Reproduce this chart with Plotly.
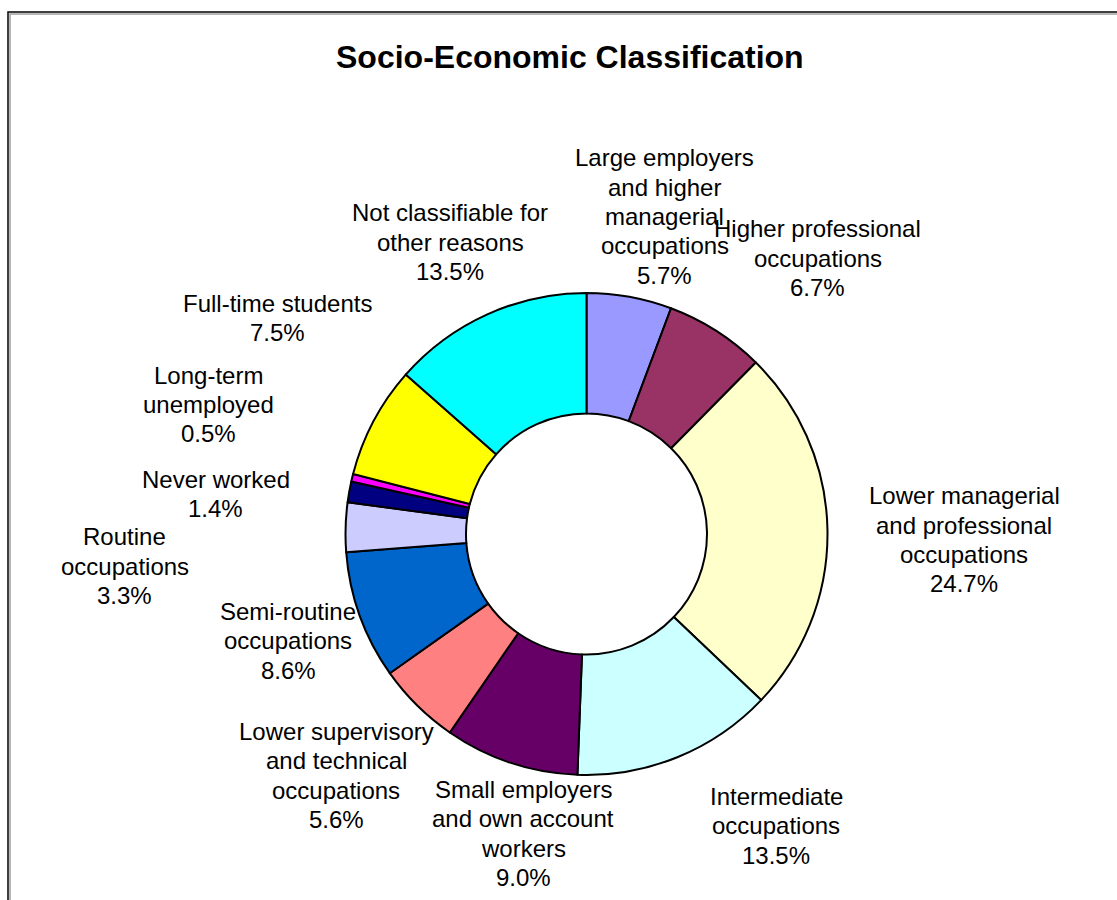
import math
import plotly.graph_objects as go

# Socio-economic classification shares (%), clockwise from 12 o'clock
categories = [
    "Large employers\nand higher\nmanagerial\noccupations",
    "Higher professional\noccupations",
    "Lower managerial\nand professional\noccupations",
    "Intermediate\noccupations",
    "Small employers\nand own account\nworkers",
    "Lower supervisory\nand technical\noccupations",
    "Semi-routine\noccupations",
    "Routine\noccupations",
    "Never worked",
    "Long-term\nunemployed",
    "Full-time students",
    "Not classifiable for\nother reasons",
]
shares = [5.7, 6.7, 24.7, 13.5, 9.0, 5.6, 8.6, 3.3, 1.4, 0.5, 7.5, 13.5]

colors = [
    "#9999FF", "#993366", "#FFFFCC", "#CCFFFF", "#660066", "#FF8080",
    "#0066CC", "#CCCCFF", "#000080", "#FF00FF", "#FFFF00", "#00FFFF",
]

# Label placement: distance from the centre (px) and angular nudge (deg)
label_dist = [327, 360, 378, 348, 306, 348, 317, 463, 373, 400, 377, 322]
label_nudge = [3.6, 7.4, 1.8, -10.9, -6.4, 1.4, 0.1, -5.6, -3.9, 5.4, 7.0, -0.7]

W, H = 1117, 900
cx, cy, R = 586.5, 534.0, 241.0
FONT = "Liberation Sans, Arial, sans-serif"
LINE_H = 29.3

fig = go.Figure()
fig.add_trace(go.Pie(
    values=shares,
    labels=[c.replace("\n", " ") for c in categories],
    sort=False,
    direction="clockwise",
    rotation=0,
    hole=0.5,
    textinfo="none",
    marker=dict(colors=colors, line=dict(color="black", width=2)),
    domain=dict(x=[(cx - R) / W, (cx + R) / W], y=[1 - (cy + R) / H, 1 - (cy - R) / H]),
    showlegend=False,
))

total = sum(shares)
cum = 0.0
annotations = []
for name, v, d, nudge in zip(categories, shares, label_dist, label_nudge):
    mid = (cum + v / 2) / total * 360.0
    cum += v
    ang = math.radians(mid + nudge)
    px = cx + d * math.sin(ang)
    py = cy - d * math.cos(ang)
    lines = name.split("\n") + [f"{v / total * 100:.1f}%"]
    n = len(lines)
    for i, line in enumerate(lines):
        annotations.append(dict(
            x=px / W, y=1 - py / H, xref="paper", yref="paper",
            text=line, showarrow=False, xanchor="center", yanchor="middle",
            yshift=-(i - (n - 1) / 2) * LINE_H,
            font=dict(family=FONT, size=24, color="black"),
        ))

annotations.append(dict(
    x=570 / W, y=1 - 57 / H, xref="paper", yref="paper",
    text="<b>Socio-Economic Classification</b>", showarrow=False,
    xanchor="center", yanchor="middle",
    font=dict(family=FONT, size=32, color="black"),
))

# Chart-area frame with a soft shadow line
shapes = [
    dict(type="rect", xref="paper", yref="paper",
         x0=10 / W, y0=-0.1, x1=1.1, y1=1 - 14 / H,
         line=dict(color="#a0a0a0", width=1.5)),
    dict(type="rect", xref="paper", yref="paper",
         x0=8 / W, y0=-0.1, x1=1.1, y1=1 - 12 / H,
         line=dict(color="black", width=1.5)),
]

fig.update_layout(
    width=W, height=H,
    margin=dict(l=0, r=0, t=0, b=0),
    paper_bgcolor="white", plot_bgcolor="white",
    annotations=annotations,
    shapes=shapes,
)

fig.write_html("out.html")
